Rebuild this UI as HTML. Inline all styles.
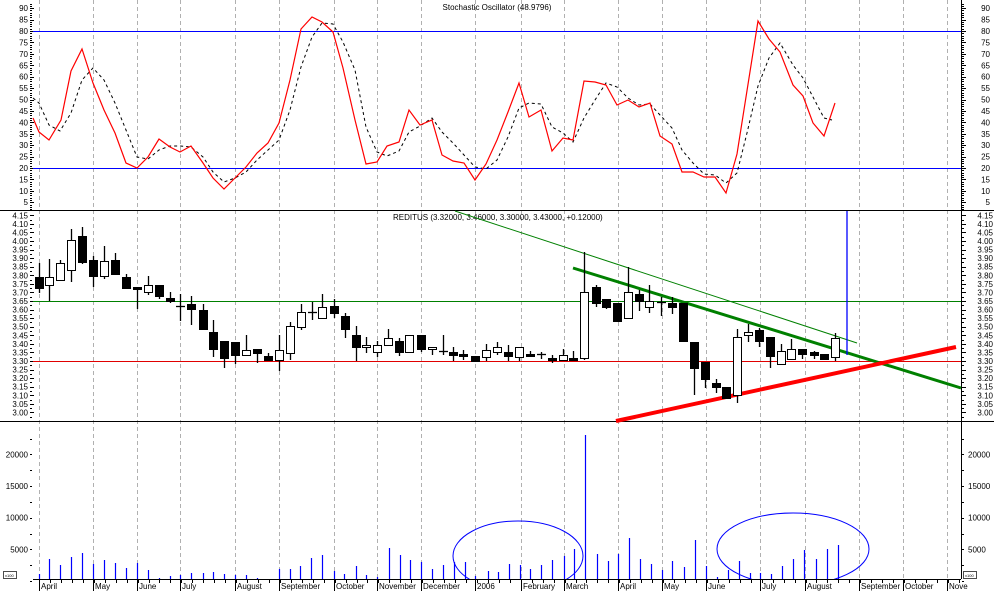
<!DOCTYPE html>
<html><head><meta charset="utf-8"><style>
html,body{margin:0;padding:0;background:#fff;}
svg{display:block;font-family:"Liberation Sans",sans-serif;}
</style></head><body>
<svg id="s" width="994" height="591" viewBox="0 0 994 591" xmlns="http://www.w3.org/2000/svg"></svg>
<script>
const S=document.getElementById('s');let h='';
function L(x1,y1,x2,y2,c,w,d){h+=`<line x1="${x1}" y1="${y1}" x2="${x2}" y2="${y2}" stroke="${c}" stroke-width="${w||1}"${d?` stroke-dasharray="${d}"`:''}/>`;}
function T(x,y,t,a,sz){h+=`<text x="${x}" y="${y}" font-size="${sz||8}" text-anchor="${a||'start'}" fill="#000">${t}</text>`;}
// month grid
const months=[[39,'April'],[93,'May'],[137,'June'],[180,'July'],[235,'August'],[279,'September'],[334,'October'],[377,'November'],[421,'December'],[475,'2006'],[521,'February'],[564,'March'],[618,'April'],[662,'May'],[706,'June'],[760,'July'],[805,'August'],[859,'September'],[903,'October'],[947,'Nove']];
months.forEach(m=>L(m[0]+.5,0,m[0]+.5,579,'#b0b0b0',1,'4,3'));
// panel lines
L(0,210.5,994,210.5,'#000',1);L(0,421.5,994,421.5,'#000',1);
L(961.5,0,961.5,579,'#000',1);
L(33,579.5,961,579.5,'#000',1);
// stoch axis
const sy=v=>168-(v-20)*2.283;
for(let v=5;v<=90;v+=5){const y=sy(v);T(28,y+3,v,'end');T(990,y+3,v,'end');}
for(let v=2;v<=92;v+=1){const y=Math.round(sy(v))+.5;const w=v%5==0?4:2;L(30,y,30+w,y,'#000',1);L(962,y,962+w,y,'#000',1);}
L(33,31.5,961,31.5,'#0000ff',1);L(33,168.5,961,168.5,'#0000ff',1);
T(497,10,'Stochastic Oscillator (48.9796)','middle',8);
// price axis
const py=p=>301-(p-3.65)*171.4;
for(let i=0;i<=23;i++){const p=3+i*0.05;const y=py(p);T(28,y+3,p.toFixed(2),'end');T(993,y+3,p.toFixed(2),'end');}
for(let i=-2;i<=48;i++){const y=Math.round(py(3+i*0.025))+.5;if(y<212||y>420)continue;const w=i%2==0?4:2;L(30,y,30+w,y,'#000',1);L(962,y,962+w,y,'#000',1);}
L(33,301.5,961,301.5,'#008000',1);L(33,361.5,961,361.5,'#e00000',1);
T(393,220,'REDITUS (3.32000, 3.46000, 3.30000, 3.43000, +0.12000)','start',8);
// trend lines
L(455,211,857,343,'#008000',1);
L(573,268,961,388,'#008000',3);
L(616,421,956,347,'#ff0000',4);
L(847,211,847,355,'#0000ff',1.3);
// candles [x,bt,bb,wt,wb,black]
const C=[[39,277,288,263,293,1],[49,277,285,259,301,0],[60,263,280,260,280,0],[71,240,270,229,282,0],[82,236,262,227,264,1],[93,260,276,256,287,1],[104,261,276,246,279,0],[115,260,274,253,274,1],[126,277,288,274,289,1],[137,287,289,287,309,1],[148,285,292,276,295,0],[159,285,296,285,299,1],[170,298,301,292,303,1],[180,306,306,294,321,2],[191,304,309,296,325,1],[203,310,329,304,329,1],[213,332,349,320,357,1],[224,341,358,341,368,1],[235,342,355,342,364,1],[246,350,355,335,355,0],[257,349,353,349,363,1],[268,356,360,353,360,1],[279,350,360,335,371,0],[290,326,353,322,360,0],[301,312,327,304,330,0],[312,312,312,302,320,2],[322,307,318,294,318,0],[334,306,313,299,318,1],[345,316,329,313,338,1],[356,335,347,326,361,1],[366,345,347,337,353,0],[377,345,352,341,357,0],[388,338,345,329,345,0],[399,341,352,338,356,1],[409,335,352,335,353,0],[421,335,349,335,352,1],[432,347,349,347,355,0],[443,351,351,335,355,2],[453,352,355,347,361,1],[463,354,356,350,360,1],[475,356,361,356,361,1],[486,350,357,344,361,0],[497,347,352,342,355,0],[508,352,356,345,361,1],[519,347,357,347,361,0],[530,354,355,351,357,1],[541,354,354,352,359,2],[552,358,360,355,363,1],[563,355,360,349,360,0],[573,358,360,351,360,1],[584,292,358,252,360,0],[596,287,303,285,307,1],[606,299,307,299,309,1],[617,303,321,303,321,1],[628,292,318,267,318,0],[639,294,301,290,311,1],[649,301,307,285,313,0],[661,302,302,297,316,2],[672,303,307,297,314,1],[683,303,341,303,341,1],[694,342,368,342,395,1],[705,362,379,362,388,1],[716,383,387,379,393,1],[726,387,398,387,398,1],[737,337,395,329,403,0],[748,332,335,324,342,0],[759,330,341,328,347,1],[770,337,356,337,368,1],[781,351,364,344,364,0],[791,349,359,339,359,0],[802,349,354,349,359,1],[814,352,355,351,359,1],[824,354,359,354,359,1],[835,338,357,333,361,0]];
C.forEach(c=>{const[x,bt,bb,wt,wb,k]=c;L(x+.5,wt,x+.5,wb,'#000',1.3);
if(k==2){L(x-4,bt+.5,x+5,bt+.5,'#000',1.3);}else{const hh=Math.max(bb-bt,2);h+=`<rect x="${x-3.5}" y="${bt+.5}" width="8" height="${hh}" fill="${k?'#000':'#fff'}" stroke="#000" stroke-width="1"/>`;}});
// stochastic lines
const R=[[33,118],[39,132],[49,140],[61,120],[71,71],[82,49],[93,83],[104,110],[115,133],[126,163],[137,168],[148,157],[159,139],[170,147],[180,152],[191,146],[203,163],[213,178],[224,189],[235,178],[246,167],[257,153],[268,143],[279,123],[290,80],[301,29],[312,17],[322,22],[333,32],[343,68],[355,120],[366,164],[377,162],[387,146],[399,142],[409,110],[420,125],[432,120],[442,155],[453,161],[464,163],[475,180],[486,164],[497,140],[508,112],[519,83],[529,117],[541,110],[552,151],[563,138],[573,140],[584,81],[595,82],[606,85],[617,105],[628,100],[639,107],[650,103],[660,136],[672,144],[682,172],[693,172],[704,177],[715,177],[726,193],[737,154],[758,21],[769,39],[780,52],[793,85],[803,96],[813,123],[824,136],[835,103]];
const D=[[33,98],[39,103],[49,125],[60,131],[71,113],[82,80],[93,68],[104,80],[115,103],[126,130],[137,157],[148,159],[159,150],[170,146],[180,146],[191,147],[203,157],[213,172],[224,182],[235,178],[246,172],[257,160],[268,150],[279,140],[290,110],[301,67],[312,37],[322,23],[333,24],[343,42],[355,70],[366,127],[377,152],[387,156],[399,151],[409,132],[420,126],[432,118],[442,132],[453,143],[464,155],[475,167],[486,169],[497,160],[508,137],[519,108],[529,103],[541,104],[552,127],[563,133],[573,142],[584,118],[595,100],[606,83],[617,87],[628,98],[639,105],[650,104],[660,115],[672,128],[682,150],[693,163],[704,174],[715,175],[726,183],[737,173],[747,133],[758,86],[769,58],[780,43],[793,65],[803,78],[813,97],[824,118],[832,120]];
h+=`<polyline points="${D.map(p=>p.join(',')).join(' ')}" fill="none" stroke="#000" stroke-width="1" stroke-dasharray="3,3"/>`;
h+=`<polyline points="${R.map(p=>p.join(',')).join(' ')}" fill="none" stroke="#ff0000" stroke-width="1.2"/>`;
// volume axis
const vy=v=>581-v*0.00633;
[5000,10000,15000,20000].forEach(v=>{T(28,vy(v)+3,v,'end');T(968,vy(v)+3,v,'start');});
for(let v=0;v<=24000;v+=2500){const y=Math.round(vy(v))+.5;if(y>425){L(30,y,32,y,'#000',1);L(962,y,964,y,'#000',1);}}
h+=`<rect x="3.5" y="571.5" width="13" height="7" fill="#fff" stroke="#000" stroke-width=".7"/><text x="5" y="577" font-size="4">x100</text>`;
h+=`<rect x="963.5" y="571.5" width="13" height="7" fill="#fff" stroke="#000" stroke-width=".7"/><text x="965" y="577" font-size="4">x100</text>`;
const V=[[39,574],[49,559],[60,565],[71,557],[82,553],[93,564],[104,560],[115,563],[126,568],[137,563],[148,570],[159,578],[170,576],[180,575],[191,573],[203,573],[213,572],[224,574],[235,575],[246,575],[257,578],[279,569],[290,569],[300,566],[311,558],[322,555],[334,571],[344,574],[356,566],[366,575],[377,577],[389,548],[400,555],[410,560],[421,562],[432,569],[443,565],[454,562],[465,562],[475,576],[488,571],[498,572],[509,564],[520,565],[530,569],[541,565],[552,560],[564,556],[574,549],[585,435],[597,554],[608,561],[618,554],[629,538],[640,559],[651,564],[662,570],[672,561],[684,567],[695,540],[706,566],[717,577],[728,570],[739,561],[750,573],[760,573],[771,574],[782,566],[793,559],[804,550],[816,559],[827,549],[838,545]];
V.forEach(v=>L(v[0]+.5,v[1],v[0]+.5,579,'#0000ff',1.2));
h+=`<defs><clipPath id="cp"><rect x="33" y="422" width="928" height="157"/></clipPath></defs>`;
h+=`<g clip-path="url(#cp)" fill="none" stroke="#0000ff" stroke-width="1"><ellipse cx="518" cy="556" rx="65" ry="35"/><ellipse cx="793" cy="549" rx="76" ry="36"/></g>`;
// x axis ticks & labels
for(let x=39;x<961;x+=10.95){L(Math.round(x)+.5,579,Math.round(x)+.5,583,'#000',1);}
months.forEach(m=>{L(m[0]+.5,579,m[0]+.5,591,'#000',1);T(m[0]+2,589,m[1],'start',8);});
S.innerHTML=h;
</script>
</body></html>
